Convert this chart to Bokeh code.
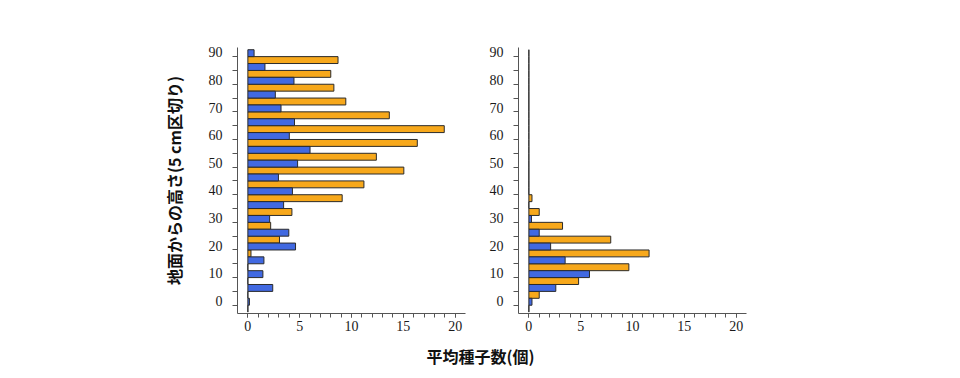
from bokeh.plotting import figure
from bokeh.layouts import row, column
from bokeh.models import ColumnDataSource, FixedTicker, Range1d, Label
from bokeh.transform import dodge
from bokeh.embed import file_html
from bokeh.resources import INLINE

# ---- data -------------------------------------------------------------
heights = [0, 5, 10, 15, 20, 25, 30, 35, 40, 45, 50, 55, 60, 65, 70, 75, 80, 85, 90]

left_orange = [0, 0, 0, 0, 0.3, 3.05, 2.2, 4.25, 9.1, 11.2, 15.05, 12.4, 16.35, 18.95, 13.65, 9.45, 8.3, 8.0, 8.7]
left_blue = [0.15, 2.4, 1.45, 1.55, 4.6, 3.95, 2.1, 3.45, 4.3, 2.95, 4.8, 6.0, 4.0, 4.5, 3.2, 2.65, 4.45, 1.65, 0.6]

right_orange = [0, 1.0, 4.8, 9.65, 11.6, 7.9, 3.25, 1.0, 0.3, 0, 0, 0, 0, 0, 0, 0, 0, 0, 0]
right_blue = [0.3, 2.6, 5.85, 3.5, 2.1, 1.0, 0.25, 0, 0, 0, 0, 0, 0, 0, 0, 0, 0, 0, 0]

y_label_values = [0, 10, 20, 30, 40, 50, 60, 70, 80, 90]
x_tick_values = [0, 5, 10, 15, 20]
x_minor_values = list(range(0, 21))

y_title = "地面からの高さ(5 cm区切り)"
x_title = "平均種子数(個)"

# ---- style ------------------------------------------------------------
ORANGE = "#F7A81B"
BLUE = "#4169E1"
EDGE = "#2b2b2b"
AXIS = "#555555"
TICKFONT = "Liberation Serif"
CJK = "Noto Sans CJK JP"
LABEL_SHIFT = 1.55  # labels sit slightly above their tick marks


def make_panel(orange, blue, width, border_left, border_right, ylabel=None):
    p = figure(width=width, height=340,
               x_range=Range1d(-1, 21), y_range=Range1d(-3, 93.3),
               output_backend="svg", toolbar_location=None,
               min_border_left=border_left, min_border_right=border_right,
               min_border_top=47, min_border_bottom=27)
    p.xgrid.visible = False
    p.ygrid.visible = False
    p.outline_line_color = None
    p.background_fill_color = "white"
    p.border_fill_color = "white"

    src = ColumnDataSource(dict(h=heights, a=orange, b=blue))
    p.hbar(y=dodge("h", -1.25), left=0, right="a", height=2.5, source=src,
           fill_color=ORANGE, line_color=EDGE, line_width=1)
    p.hbar(y=dodge("h", 1.25), left=0, right="b", height=2.5, source=src,
           fill_color=BLUE, line_color=EDGE, line_width=1)

    # x axis
    xa = p.xaxis[0]
    xa.ticker = FixedTicker(ticks=x_tick_values, minor_ticks=x_minor_values)
    xa.major_tick_out = 4
    xa.major_tick_in = 0
    xa.minor_tick_out = 4
    xa.minor_tick_in = 0
    xa.axis_line_color = AXIS
    xa.major_tick_line_color = AXIS
    xa.minor_tick_line_color = AXIS
    xa.major_label_standoff = 3
    xa.major_label_text_font = TICKFONT
    xa.major_label_text_font_size = "14px"
    xa.major_label_text_color = "#1a1a1a"

    # y axis
    ya = p.yaxis[0]
    shifted = [v + LABEL_SHIFT for v in y_label_values]
    ya.ticker = FixedTicker(ticks=shifted, minor_ticks=heights)
    ya.major_label_overrides = {s: str(v) for s, v in zip(shifted, y_label_values)}
    ya.major_tick_out = 0
    ya.major_tick_in = 0
    ya.minor_tick_out = 5
    ya.minor_tick_in = 0
    ya.axis_line_color = AXIS
    ya.minor_tick_line_color = AXIS
    ya.major_label_standoff = 10
    ya.major_label_text_font = TICKFONT
    ya.major_label_text_font_size = "14px"
    ya.major_label_text_color = "#1a1a1a"
    if ylabel:
        ya.axis_label = ylabel
        ya.axis_label_text_font = CJK
        ya.axis_label_text_font_style = "bold"
        ya.axis_label_text_font_size = "16px"
        ya.axis_label_text_color = "#111111"
        ya.axis_label_standoff = 20
    return p


left = make_panel(left_orange, left_blue, 480, 237, 15, ylabel=y_title)
right = make_panel(right_orange, right_blue, 480, 38, 214)

bottom = figure(width=960, height=38, x_range=Range1d(0, 960), y_range=Range1d(0, 38),
                x_axis_type=None, y_axis_type=None, min_border=0,
                output_backend="svg", toolbar_location=None)
bottom.xgrid.visible = False
bottom.ygrid.visible = False
bottom.outline_line_color = None
bottom.add_layout(Label(x=480, y=23, text=x_title, text_align="center",
                        text_baseline="middle", text_font=CJK,
                        text_font_style="bold", text_font_size="16px",
                        text_color="#111111"))

layout = column(row(left, right), bottom)

open("out.html", "w").write(file_html(layout, INLINE))
